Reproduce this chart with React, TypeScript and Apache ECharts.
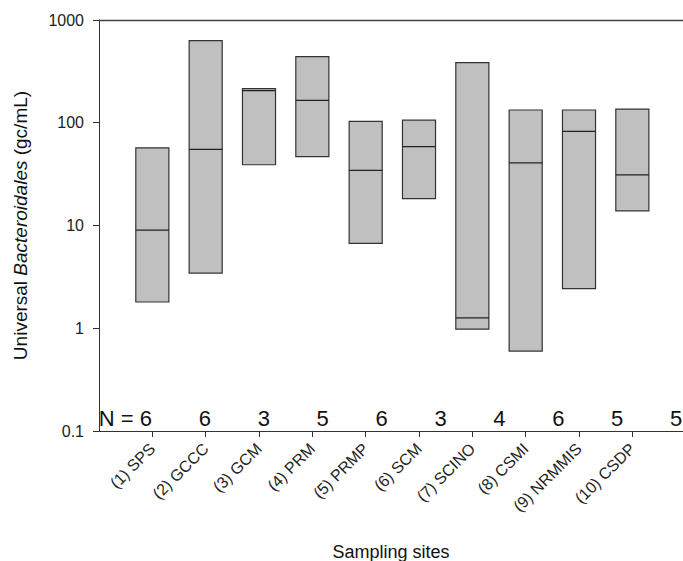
import React, { useEffect, useRef } from "react";
import * as echarts from "echarts";

const sites = [
  "(1) SPS",
  "(2) GCCC",
  "(3) GCM",
  "(4) PRM",
  "(5) PRMP",
  "(6) SCM",
  "(7) SCINO",
  "(8) CSMI",
  "(9) NRMMIS",
  "(10) CSDP",
];
const lows = [1.8, 3.44, 39, 46.8, 6.7, 18.3, 0.98, 0.6, 2.43, 13.9];
const medians = [9.0, 55, 205, 165, 34.4, 58.5, 1.26, 40.6, 82.4, 31.1];
const highs = [57, 630, 215, 440, 103, 106, 385, 133, 133, 136];
const nCounts = [6, 6, 3, 5, 6, 3, 4, 6, 5, 5];
const yTicks = [0.1, 1, 10, 100, 1000];

const FONT = "'Liberation Sans', Arial, sans-serif";

export default function App() {
  const ref = useRef<HTMLDivElement>(null);
  useEffect(() => {
    document.body.style.margin = "0";
    if (!ref.current) return;
    const chart = echarts.init(ref.current, undefined, { renderer: "svg" });
    const boxData = sites.map((_, i) => [i + 1, lows[i], medians[i], highs[i]]);
    const positions = sites.map((_, i) => i + 1);

    const nTexts = nCounts.map((n, i) => {
      const first = i === 0;
      const last = i === nCounts.length - 1;
      return {
        type: "text",
        x: first ? 152 : last ? 676 : 146 + 58.9 * i,
        y: 418,
        style: {
          text: first ? "N = " + n : String(n),
          fontSize: 22,
          fontFamily: FONT,
          fill: "#111",
          align: first ? "right" : "center",
          verticalAlign: "middle",
        },
      };
    });

    chart.setOption({
      animation: false,
      backgroundColor: "#fff",
      grid: {
        left: 99,
        right: 0,
        top: 20,
        bottom: 130,
        containLabel: false,
        outerBoundsMode: "none",
      },
      xAxis: [
        {
          type: "value",
          min: 0,
          max: 10.95,
          position: "bottom",
          name: "Sampling sites",
          nameLocation: "middle",
          nameGap: 112,
          nameTextStyle: { fontSize: 18, fontFamily: FONT, color: "#111" },
          axisLine: { show: true, lineStyle: { color: "#333", width: 1 } },
          axisTick: {
            show: true,
            length: 6,
            customValues: positions,
            lineStyle: { color: "#333" },
          },
          axisLabel: {
            customValues: positions,
            rotate: 45,
            margin: 15,
            fontSize: 16,
            fontFamily: FONT,
            color: "#222",
            formatter: (v: number) => sites[Math.round(v) - 1] ?? "",
          },
          splitLine: { show: false },
        },
        {
          type: "value",
          min: 0,
          max: 10.95,
          position: "top",
          axisLine: { show: true, lineStyle: { color: "#444", width: 1.3 } },
          axisTick: { show: false },
          axisLabel: { show: false },
          splitLine: { show: false },
        },
      ],
      yAxis: {
        type: "log",
        logBase: 10,
        min: 0.1,
        max: 1000,
        name: "{r|Universal }{i|Bacteroidales}{r| (gc/mL)}",
        nameLocation: "middle",
        nameGap: 69,
        nameTextStyle: {
          rich: {
            r: { fontSize: 19, fontFamily: FONT, color: "#111" },
            i: { fontSize: 19, fontFamily: FONT, color: "#111", fontStyle: "italic" },
          },
        },
        axisLine: { show: true, lineStyle: { color: "#333", width: 1 } },
        axisTick: { show: true, length: 6, lineStyle: { color: "#333" } },
        axisLabel: {
          margin: 15,
          fontSize: 16,
          fontFamily: FONT,
          color: "#222",
          formatter: (v: number) => {
            const t = yTicks.find((k) => Math.abs(k - v) / k < 1e-6);
            return t === undefined ? "" : String(t);
          },
        },
        splitLine: { show: false },
        minorTick: { show: false },
      },
      graphic: nTexts,
      series: [
        {
          type: "custom",
          xAxisIndex: 0,
          encode: { x: 0, y: [1, 2, 3] },
          data: boxData,
          renderItem: (params: any, api: any) => {
            const x = api.value(0);
            const lo = api.coord([x, api.value(1)]);
            const md = api.coord([x, api.value(2)]);
            const hi = api.coord([x, api.value(3)]);
            const l = api.coord([x - 0.31, api.value(2)])[0];
            const r = api.coord([x + 0.31, api.value(2)])[0];
            return {
              type: "group",
              children: [
                {
                  type: "rect",
                  shape: { x: l, y: hi[1], width: r - l, height: lo[1] - hi[1] },
                  style: { fill: "#c0c0c0", stroke: "#333", lineWidth: 1.2 },
                },
                {
                  type: "line",
                  shape: { x1: l, y1: md[1], x2: r, y2: md[1] },
                  style: { stroke: "#222", lineWidth: 1.2 },
                },
              ],
            };
          },
        },
      ],
    });
    return () => chart.dispose();
  }, []);
  return <div ref={ref} style={{ width: 683, height: 561 }} />;
}
